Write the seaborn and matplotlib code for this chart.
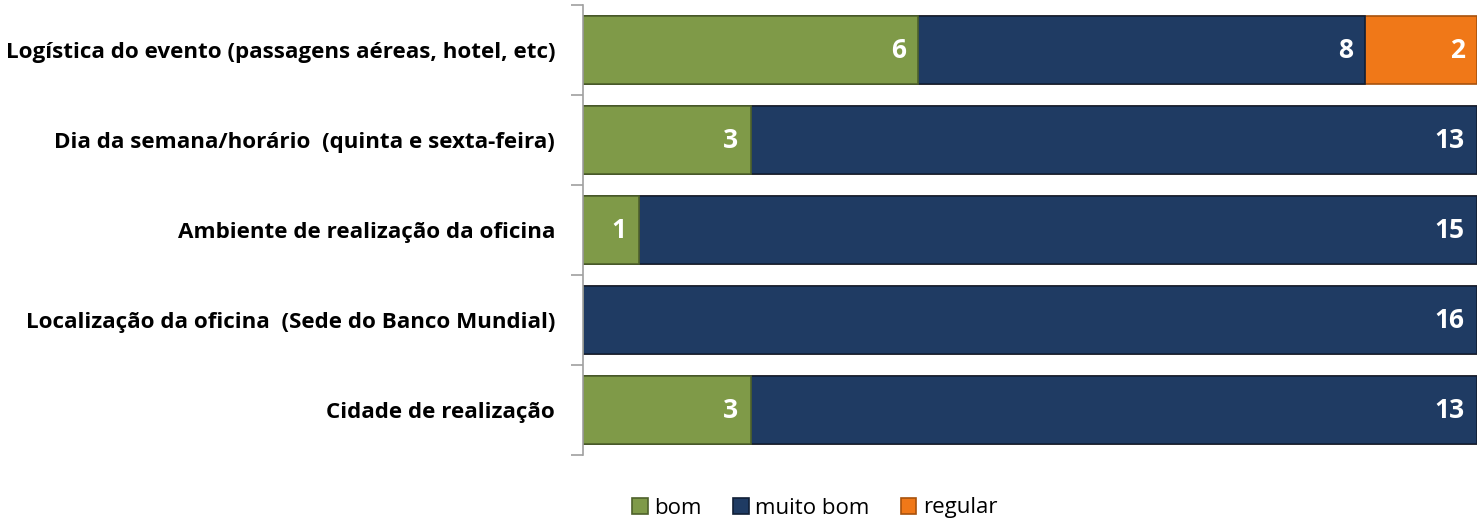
import numpy as np
import pandas as pd
import matplotlib
matplotlib.use("Agg")
import matplotlib.pyplot as plt
import seaborn as sns

categories = [
    "Logística do evento (passagens aéreas, hotel, etc)",
    "Dia da semana/horário  (quinta e sexta-feira)",
    "Ambiente de realização da oficina",
    "Localização da oficina  (Sede do Banco Mundial)",
    "Cidade de realização",
]
bom = [6, 3, 1, 0, 3]
muito_bom = [8, 13, 15, 16, 13]
regular = [2, 0, 0, 0, 0]

series_names = ["bom", "muito bom", "regular"]
colors = {"bom": "#7F9A48", "muito bom": "#1F3B63", "regular": "#F07818"}
edges = {"bom": "#4E612A", "muito bom": "#101F36", "regular": "#A8520C"}

sns.set_style("white")
plt.rcParams["font.family"] = ["Open Sans", "DejaVu Sans"]
plt.rcParams["text.color"] = "black"
plt.rcParams["ytick.color"] = "black"

df = pd.DataFrame({"categoria": categories, "bom": bom,
                   "muito bom": muito_bom, "regular": regular})
df["c_bom"] = df["bom"]
df["c_muito bom"] = df["bom"] + df["muito bom"]
df["c_regular"] = df["c_muito bom"] + df["regular"]

fig = plt.figure(figsize=(14.77, 5.21), dpi=100)
ax = fig.add_axes([583 / 1477, 1 - 455 / 521, 1 - 583 / 1477, 450 / 521])

# draw cumulative totals back to front to get a stacked look
for name in reversed(series_names):
    sns.barplot(data=df, y="categoria", x="c_" + name, orient="h",
                color=colors[name], edgecolor=edges[name], linewidth=1.2,
                width=0.76, ax=ax, saturation=1, label=name)

# value labels at the inner end of each segment
for i, row in df.iterrows():
    for name in series_names:
        v = row[name]
        if v > 0:
            ax.text(row["c_" + name] - 0.22, i, str(v), ha="right", va="center",
                    color="white", fontsize=19, fontweight="bold")

ax.set_xlim(0, 16)
ax.set_ylim(4.5, -0.5)
ax.set_xlabel("")
ax.set_ylabel("")
ax.set_xticks([])
ax.set_yticks(np.arange(len(categories)))
ax.set_yticklabels(categories)
for lab in ax.get_yticklabels():
    lab.set_fontweight("bold")
    lab.set_fontsize(16.1)
    lab.set_color("black")
ax.tick_params(axis="y", which="major", left=True, length=0, pad=20)
# boundary ticks between categories
ax.set_yticks(np.arange(-0.5, len(categories)), minor=True)
ax.tick_params(axis="y", which="minor", left=True, length=9,
               color="#A0A0A0", width=1.2)
for s in ["top", "right", "bottom"]:
    ax.spines[s].set_visible(False)
ax.spines["left"].set_color("#A0A0A0")
ax.spines["left"].set_linewidth(1.2)

handles, labels = ax.get_legend_handles_labels()
order = [labels.index(n) for n in series_names]
leg = ax.legend([handles[k] for k in order], series_names, loc="center",
                bbox_to_anchor=(815 / 1477, 13 / 521), bbox_transform=fig.transFigure,
                ncol=3, frameon=False, fontsize=16, handlelength=0.7,
                handleheight=0.7, handletextpad=0.3, columnspacing=1.4)
for t in leg.get_texts():
    t.set_color("black")

fig.savefig("out.png", dpi=100)
